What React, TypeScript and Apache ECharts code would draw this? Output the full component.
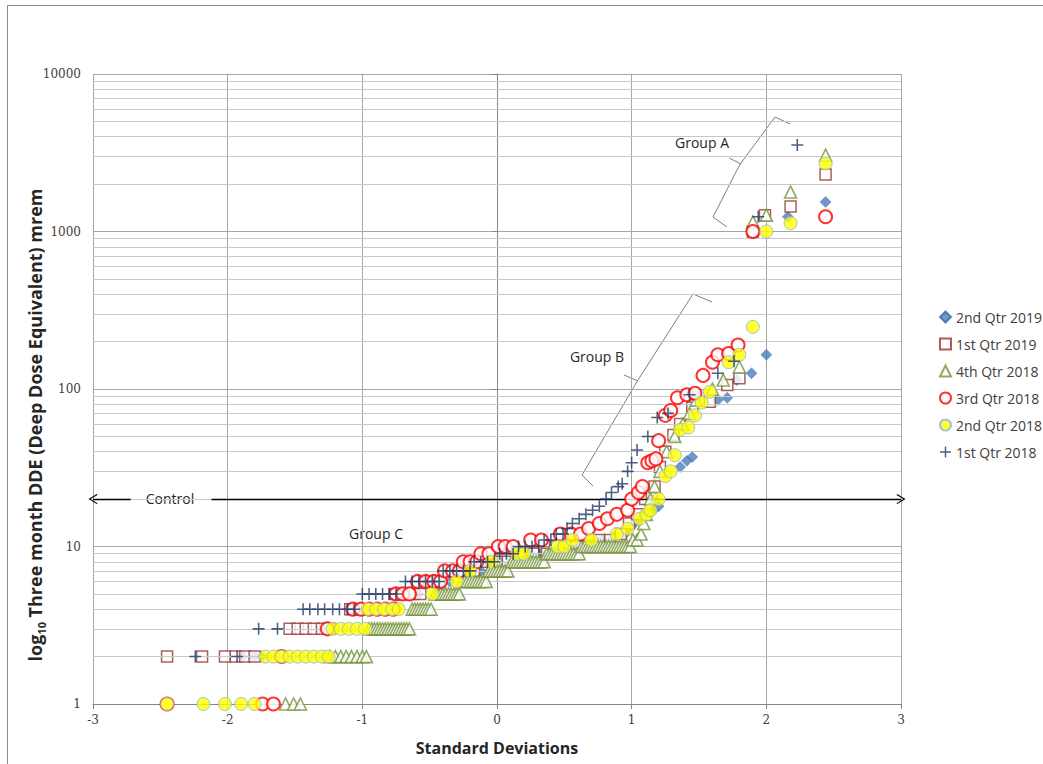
import React, { useEffect, useRef } from 'react';
import * as echarts from 'echarts';

type Runs = [number, number[]][];

const seriesNames = ['2nd Qtr 2019', '1st Qtr 2019', '4th Qtr 2018', '3rd Qtr 2018', '2nd Qtr 2018', '1st Qtr 2018'];
const yMinorGrid = [2, 3, 4, 5, 6, 7, 8, 9, 20, 30, 40, 50, 60, 70, 80, 90, 200, 300, 400, 500, 600, 700, 800, 900, 2000, 3000, 4000, 5000, 6000, 7000, 8000, 9000];
const controlLevel = 20;

// each run: [dose mrem, standard-deviation positions]
const q2_2019: Runs = [
  [2, [-1.89, -1.8, -1.75]], [3, [-1.3, -1.25]], [4, [-1.07, -1.01]], [5, [-0.72, -0.65, -0.58]],
  [6, [-0.42, -0.35]], [7, [-0.2, -0.12, -0.05]], [8, [0.02, 0.1, 0.17]], [9, [0.25, 0.33, 0.4, 0.47]],
  [10, [0.51, 0.58, 0.66, 0.74]], [11, [0.78, 0.85]], [12, [0.89, 0.95]], [13, [0.98]], [14, [1.02]],
  [15, [1.06]], [16, [1.12]], [17, [1.16]], [18, [1.2]], [32, [1.36]], [35, [1.41]], [37, [1.45]],
  [85, [1.64]], [88, [1.71]], [114, [1.78]], [126, [1.89]], [165, [2.0]], [1240, [2.16]], [1540, [2.44]],
];
const q1_2019: Runs = [
  [2, [-2.45, -2.19, -2.02, -1.94, -1.87, -1.8]], [3, [-1.54, -1.48, -1.42, -1.36, -1.3, -1.24]],
  [4, [-1.09, -1.03]], [5, [-0.76, -0.7, -0.63, -0.57]], [6, [-0.5, -0.43]], [7, [-0.27, -0.17]],
  [8, [-0.09, 0.0, 0.08]], [9, [0.17, 0.27, 0.37]], [10, [0.43, 0.51, 0.59, 0.67]], [11, [0.76, 0.84]],
  [12, [0.92]], [14, [0.98]], [16, [1.04]], [20, [1.1]], [22, [1.15]], [24, [1.17]], [32, [1.21]],
  [40, [1.25]], [51, [1.31]], [60, [1.36]], [76, [1.45]], [83, [1.58]], [106, [1.71]], [117, [1.8]],
  [1000, [1.9]], [1270, [1.99]], [1440, [2.18]], [2300, [2.44]],
];
const q4_2018: Runs = [
  [1, [-1.57, -1.51, -1.46]],
  [2, [-1.24, -1.2, -1.16, -1.12, -1.08, -1.04, -1.0, -0.97]],
  [3, [-0.95, -0.93, -0.91, -0.89, -0.87, -0.85, -0.83, -0.81, -0.79, -0.77, -0.75, -0.73, -0.71, -0.69, -0.67, -0.65]],
  [4, [-0.63, -0.61, -0.59, -0.57, -0.55, -0.53, -0.51, -0.49]],
  [5, [-0.46, -0.44, -0.42, -0.4, -0.38, -0.36, -0.34, -0.32, -0.3, -0.28]],
  [6, [-0.26, -0.24, -0.22, -0.2, -0.18, -0.16, -0.14, -0.12, -0.1, -0.08]],
  [7, [-0.06, -0.04, -0.02, 0.0, 0.02, 0.04, 0.06, 0.08]],
  [8, [0.11, 0.13, 0.15, 0.17, 0.19, 0.21, 0.23, 0.25, 0.27, 0.29, 0.31, 0.33, 0.35]],
  [9, [0.37, 0.39, 0.41, 0.43, 0.45, 0.47, 0.49, 0.51, 0.53, 0.55, 0.57, 0.59, 0.61]],
  [10, [0.63, 0.65, 0.67, 0.69, 0.71, 0.73, 0.75, 0.77, 0.79, 0.81, 0.83, 0.85, 0.87, 0.89, 0.91, 0.93, 0.95, 0.97, 0.99]],
  [11, [1.01, 1.04]], [12, [1.07]],
  [14, [1.09]], [16, [1.11]], [20, [1.14]], [24, [1.17]], [30, [1.21]], [40, [1.26]], [50, [1.32]],
  [60, [1.38]], [70, [1.43]], [85, [1.48]], [100, [1.6]], [114, [1.68]], [138, [1.8]],
  [1150, [1.9]], [1270, [2.0]], [1780, [2.18]], [3050, [2.44]],
];
const q3_2018: Runs = [
  [1, [-2.45, -1.74, -1.66]], [2, [-1.6]], [3, [-1.26]],
  [4, [-1.07, -1.01, -0.95, -0.89, -0.83, -0.77]], [5, [-0.75, -0.7, -0.65]], [6, [-0.59, -0.53, -0.47, -0.42]],
  [7, [-0.39, -0.33, -0.28]], [8, [-0.25, -0.2, -0.15]], [9, [-0.12, -0.06]], [10, [0.01, 0.06, 0.12]],
  [11, [0.25, 0.33]], [12, [0.47, 0.55, 0.62]], [13, [0.68]], [14, [0.76]], [15, [0.82]], [16, [0.89]],
  [17, [0.97]], [20, [1.0]], [22, [1.05]], [24, [1.08]], [34, [1.12]], [35, [1.15]], [36, [1.18]],
  [47, [1.2]], [68, [1.25]], [73, [1.29]], [88, [1.34]], [92, [1.41]], [94, [1.47]], [122, [1.53]],
  [148, [1.6]], [165, [1.64]], [168, [1.72]], [190, [1.79]], [1000, [1.9]], [1240, [2.44]],
];
const q2_2018: Runs = [
  [1, [-2.45, -2.18, -2.02, -1.9, -1.8]], [2, [-1.72, -1.66, -1.6, -1.54, -1.48, -1.42, -1.36, -1.3, -1.25]],
  [3, [-1.22, -1.16, -1.1, -1.04, -0.98]], [4, [-0.96, -0.9, -0.84, -0.78, -0.73]], [5, [-0.48]],
  [6, [-0.3]], [7, [-0.2]], [8, [-0.04]], [9, [0.15, 0.2]], [10, [0.45, 0.5]], [11, [0.56, 0.7]],
  [12, [0.89]], [13, [0.97]], [15, [1.06]], [16, [1.11]], [17, [1.14]], [20, [1.2]], [28, [1.25]],
  [30, [1.29]], [38, [1.32]], [55, [1.36]], [57, [1.42]], [68, [1.47]], [82, [1.52]], [96, [1.58]],
  [148, [1.72]], [165, [1.8]], [248, [1.9]], [1000, [2.0]], [1130, [2.18]], [2700, [2.44]],
];
const q1_2018: Runs = [
  [2, [-2.24, -1.93]], [3, [-1.77, -1.63]], [4, [-1.44, -1.39, -1.33, -1.28, -1.22, -1.17, -1.11, -1.06]],
  [5, [-1.0, -0.95, -0.9, -0.85, -0.8, -0.75]], [6, [-0.68, -0.63, -0.58, -0.53, -0.48, -0.43]],
  [7, [-0.4, -0.35, -0.3, -0.25, -0.2]], [8, [-0.17, -0.12, -0.07, -0.02]], [9, [0.02, 0.07, 0.12]],
  [10, [0.16, 0.21, 0.26, 0.31]], [11, [0.35, 0.4]], [12, [0.44, 0.49]], [13, [0.52]], [14, [0.56]],
  [15, [0.61]], [16, [0.66]], [17, [0.71]], [18, [0.76]], [20, [0.81]], [22, [0.85]], [24, [0.9]],
  [25, [0.93]], [30, [0.97]], [34, [1.0]], [41, [1.04]], [50, [1.12]], [66, [1.19]], [70, [1.27]],
  [92, [1.43]], [126, [1.64]], [150, [1.76]], [1240, [1.94]], [3540, [2.23]],
];

const flatten = (runs: Runs) => runs.flatMap(([v, xs]) => xs.map((x) => [x, v]));

const PLUS = 'path://M4.35,0 L5.65,0 L5.65,4.35 L10,4.35 L10,5.65 L5.65,5.65 L5.65,10 L4.35,10 L4.35,5.65 L0,5.65 L0,4.35 L4.35,4.35 Z';
const CHEVRON = 'path://M0,9.2 L5,0 L10,9.2 L9.1,10 L5,2.4 L0.9,10 Z';

const labelFont = 'DejaVu Serif';
const textFont = 'Open Sans';

export default function App() {
  const ref = useRef<HTMLDivElement>(null);
  useEffect(() => {
    if (!ref.current) return;
    const chart = echarts.init(ref.current, undefined, { renderer: 'svg' });
    const axisColor = '#868686';
    const option: any = {
      animation: false,
      backgroundColor: '#ffffff',
      grid: { left: 93, right: 142, top: 74, bottom: 60 },
      legend: {
        orient: 'vertical', left: 934, top: 305, itemGap: 13, itemWidth: 11, itemHeight: 11,
        textStyle: { fontFamily: textFont, fontSize: 14, color: '#404040' },
        data: seriesNames,
      },
      xAxis: {
        type: 'value', min: -3, max: 3, interval: 1,
        axisLine: { show: true, onZero: false, lineStyle: { color: axisColor } },
        axisTick: { show: true, length: 5, lineStyle: { color: axisColor } },
        axisLabel: { fontFamily: labelFont, fontSize: 12, color: '#404040', margin: 10 },
        splitLine: { show: true, lineStyle: { color: '#A6A6A6', width: 1 } },
        name: 'Standard Deviations', nameLocation: 'middle', nameGap: 36,
        nameTextStyle: { fontFamily: textFont, fontWeight: 'bold', fontSize: 16, color: '#262626' },
      },
      yAxis: {
        type: 'log', logBase: 10, min: 1, max: 10000,
        axisLine: { show: true, lineStyle: { color: axisColor } },
        axisTick: { show: true, length: 5, lineStyle: { color: axisColor } },
        axisLabel: { fontFamily: labelFont, fontSize: 12, color: '#404040', margin: 12, formatter: (v: number) => String(v) },
        splitLine: { show: true, lineStyle: { color: '#A6A6A6', width: 1 } },
      },
      graphic: [
        { type: 'rect', silent: true, shape: { x: 7.5, y: 5.5, width: 1060, height: 800 }, style: { fill: 'none', stroke: '#8C8C8C', lineWidth: 1 } },
        {
          type: 'text', x: 35, y: 425, rotation: Math.PI / 2, silent: true,
          style: {
            text: '{b|log}{s|10}{b| Three month DDE (Deep Dose Equivalent) mrem}',
            align: 'center', verticalAlign: 'middle',
            rich: {
              b: { fontFamily: textFont, fontWeight: 'bold', fontSize: 18, fill: '#262626', lineHeight: 24 },
              s: { fontFamily: textFont, fontWeight: 'bold', fontSize: 11, fill: '#262626', lineHeight: 24, verticalAlign: 'bottom', padding: [7, 0, 0, 0] },
            },
          },
        },
        { type: 'text', x: 170, y: 498, style: { text: 'Control', fontFamily: textFont, fontSize: 14, fill: '#262626', align: 'center', verticalAlign: 'middle' } },
        { type: 'text', x: 376, y: 533, style: { text: 'Group C', fontFamily: textFont, fontSize: 14, fill: '#262626', align: 'center', verticalAlign: 'middle' } },
        { type: 'text', x: 597, y: 356, style: { text: 'Group B', fontFamily: textFont, fontSize: 14, fill: '#262626', align: 'center', verticalAlign: 'middle' } },
        { type: 'text', x: 702, y: 142, style: { text: 'Group A', fontFamily: textFont, fontSize: 14, fill: '#262626', align: 'center', verticalAlign: 'middle' } },
        { type: 'polyline', silent: true, shape: { points: [[790, 124], [775, 117], [741, 163], [738, 168], [713, 217], [727, 227]] }, style: { stroke: '#7F7F7F', lineWidth: 1, fill: 'none' } },
        { type: 'polyline', silent: true, shape: { points: [[741, 164], [729, 158]] }, style: { stroke: '#7F7F7F', lineWidth: 1, fill: 'none' } },
        { type: 'polyline', silent: true, shape: { points: [[712, 302], [693, 294], [638, 380], [635, 385], [582, 475], [593, 486]] }, style: { stroke: '#7F7F7F', lineWidth: 1, fill: 'none' } },
        { type: 'polyline', silent: true, shape: { points: [[638, 381], [624, 375]] }, style: { stroke: '#7F7F7F', lineWidth: 1, fill: 'none' } },
      ],
      series: [
        {
          name: 'grid', type: 'line', data: [], z: 1, silent: true,
          markLine: {
            silent: true, symbol: ['none', 'none'], animation: false,
            label: { show: false },
            lineStyle: { color: '#C8C8C8', type: 'solid', width: 1 },
            data: yMinorGrid.map((v) => ({ yAxis: v })),
          },
        },
        {
          name: seriesNames[0], type: 'scatter', z: 3, data: flatten(q2_2019),
          symbol: 'diamond', symbolSize: 11,
          itemStyle: { color: '#4A7EBB', borderColor: '#3A6AA5', borderWidth: 0.5 },
        },
        {
          name: seriesNames[1], type: 'scatter', z: 4, data: flatten(q1_2019),
          symbol: 'rect', symbolSize: 11,
          itemStyle: { color: '#FFFFFF', borderColor: '#953735', borderWidth: 1.5 },
        },
        {
          name: seriesNames[2], type: 'scatter', z: 5, data: flatten(q4_2018),
          symbol: 'triangle', symbolSize: 12,
          itemStyle: { color: '#FFFFFF', borderColor: '#77933C', borderWidth: 1.6 },
        },
        {
          name: seriesNames[3], type: 'scatter', z: 6, data: flatten(q3_2018),
          symbol: 'circle', symbolSize: 13,
          itemStyle: { color: '#FFFFFF', borderColor: '#FF0000', borderWidth: 2 },
        },
        {
          name: seriesNames[4], type: 'scatter', z: 7, data: flatten(q2_2018),
          symbol: 'circle', symbolSize: 13,
          itemStyle: { color: '#FFFF00', borderColor: '#8DB4E2', borderWidth: 1 },
        },
        {
          name: seriesNames[5], type: 'scatter', z: 8, data: flatten(q1_2018),
          symbol: PLUS, symbolSize: 12,
          itemStyle: { color: '#1F3864' },
        },
        {
          name: 'control', type: 'line', data: [], z: 9, silent: true,
          markLine: {
            silent: true, animation: false, label: { show: false },
            lineStyle: { color: '#000000', type: 'solid', width: 1.3 },
            data: [
              [{ coord: [-3, controlLevel], symbol: CHEVRON, symbolSize: [10, 9] }, { coord: [-2.72, controlLevel], symbol: 'none' }],
              [{ coord: [-2.12, controlLevel], symbol: 'none' }, { coord: [3, controlLevel], symbol: CHEVRON, symbolSize: [10, 9] }],
            ],
          },
        },
      ],
    };
    chart.setOption(option);
    return () => chart.dispose();
  }, []);
  return <div ref={ref} style={{ position: 'absolute', left: 0, top: 0, width: 1043, height: 764 }} />;
}
